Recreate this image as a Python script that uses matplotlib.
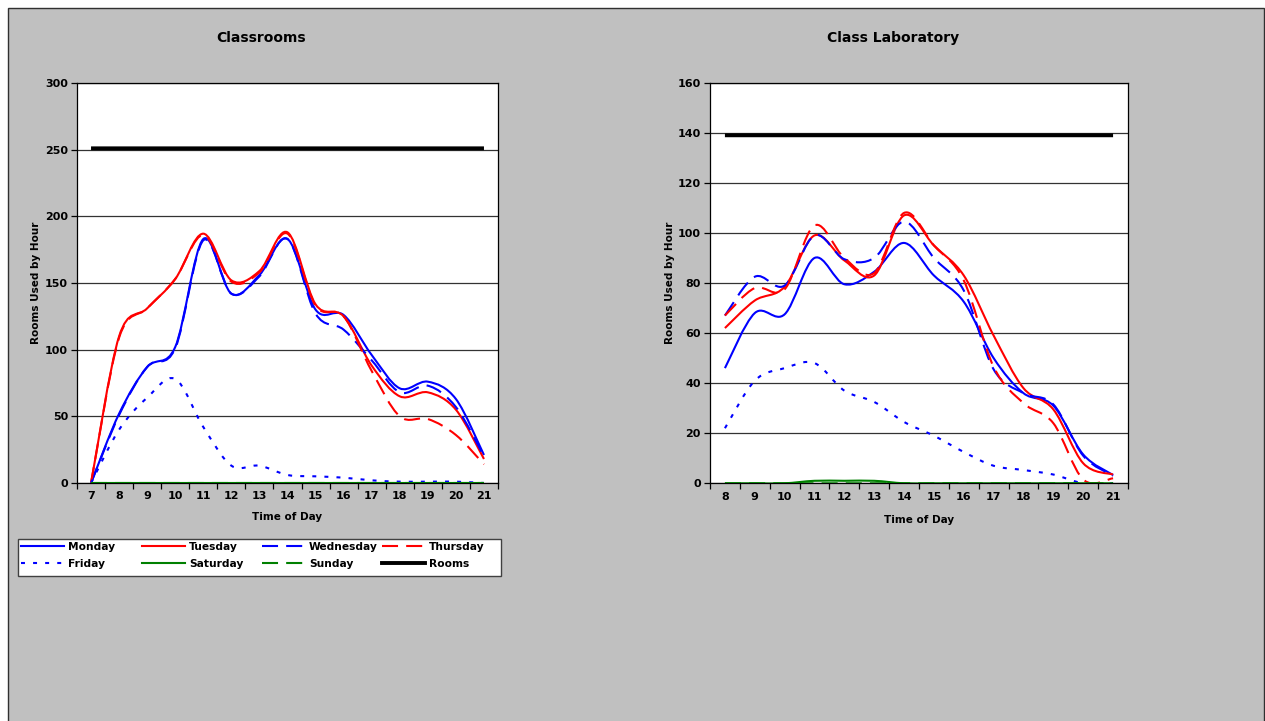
import numpy as np
import matplotlib
matplotlib.use("Agg")
import matplotlib.pyplot as plt
from matplotlib.path import Path
from matplotlib.patches import PathPatch, Rectangle
from matplotlib.lines import Line2D

plt.rcParams['font.family'] = ['DejaVu Sans']

# ---------------- data ----------------
hours_class = [7, 8, 9, 10, 11, 12, 13, 14, 15, 16, 17, 18, 19, 20, 21]
class_monday = [0, 52, 87, 102, 183, 142, 156, 183, 130, 126, 96, 71, 76, 63, 21]
class_tuesday = [0, 110, 131, 153, 187, 152, 159, 188, 134, 125, 88, 65, 68, 55, 18]
class_wednesday = [0, 51, 87, 101, 182, 142, 155, 183, 127, 115, 92, 68, 73, 57, 20]
class_thursday = [0, 109, 131, 153, 186, 151, 158, 187, 133, 125, 84, 50, 48, 36, 14]
class_friday = [0, 40, 64, 78, 42, 13, 13, 6, 5, 4, 2, 1, 1, 1, 0]
class_saturday = [0, 0, 0, 0, 0, 0, 0, 0, 0, 0, 0, 0, 0, 0, 0]
class_sunday = [0, 0, 0, 0, 0, 0, 0, 0, 0, 0, 0, 0, 0, 0, 0]
class_rooms = [251] * 15

hours_lab = [8, 9, 10, 11, 12, 13, 14, 15, 16, 17, 18, 19, 20, 21]
lab_monday = [46, 68, 67.5, 90, 79.5, 84.5, 96, 83, 72.5, 50, 36, 31, 11.5, 3.3]
lab_tuesday = [62, 73, 78.5, 99, 89, 83, 107, 95, 83, 59, 38, 29.5, 8, 3.5]
lab_wednesday = [67, 82.5, 79, 99, 89.5, 90, 104.5, 90, 77, 45.5, 36, 31.5, 11, 3]
lab_thursday = [67, 78, 77.5, 103, 90, 84, 108, 95, 81, 46.5, 32, 24, 1.5, 2]
lab_friday = [22, 41, 46, 48, 37, 32.5, 24.5, 19, 12.5, 7, 5.3, 3.5, 0, 0]
lab_saturday = [0, 0, 0, 1, 1, 1, 0, 0, 0, 0, 0, 0, 0, 0]
lab_sunday = [0, 0, 0, 0, 0, 0, 0, 0, 0, 0, 0, 0, 0, 0]
lab_rooms = [139] * 14

series_names = ["Monday", "Tuesday", "Wednesday", "Thursday",
                "Friday", "Saturday", "Sunday", "Rooms"]

# ---------------- styles ----------------
LW = 1.5
DASH = (0, (7.7, 3.9))
DOT = (0, (1.9, 3.9))
styles = {
    "Monday": dict(color="#0000FF", lw=LW, ls="-"),
    "Tuesday": dict(color="#FF0000", lw=LW, ls="-"),
    "Wednesday": dict(color="#0000FF", lw=LW, ls=DASH),
    "Thursday": dict(color="#FF0000", lw=LW, ls=DASH),
    "Friday": dict(color="#0000FF", lw=LW, ls=DOT),
    "Saturday": dict(color="#008000", lw=LW, ls="-"),
    "Sunday": dict(color="#008000", lw=LW, ls=DASH),
    "Rooms": dict(color="#000000", lw=2.8, ls="-"),
}

GRAY = "#C0C0C0"
W, H = 1265, 721
fig = plt.figure(figsize=(W / 100, H / 100), dpi=100, facecolor="white")

# outer gray panel with dark border
fig.add_artist(Rectangle((8 / W, -0.02), 1 - 8 / W - 1.5 / W, 1 - 8.5 / H + 0.02,
                         transform=fig.transFigure, facecolor=GRAY,
                         edgecolor="#303030", lw=1.0, zorder=0))


def smooth_path(xs, ys):
    pts = np.column_stack([np.asarray(xs, float), np.asarray(ys, float)])
    n = len(pts)
    verts = [pts[0]]
    codes = [Path.MOVETO]
    for i in range(n - 1):
        p0 = pts[max(i - 1, 0)]
        p1 = pts[i]
        p2 = pts[i + 1]
        p3 = pts[min(i + 2, n - 1)]
        c1 = p1 + (p2 - p0) / 6.0
        c2 = p2 - (p3 - p1) / 6.0
        verts += [c1, c2, p2]
        codes += [Path.CURVE4] * 3
    return Path(verts, codes)


def setup_axes(rect, hours, ymax, ystep, ylabelpad, xlabelpad):
    ax = fig.add_axes(rect)
    ax.set_facecolor("white")
    ax.set_xlim(hours[0] - 0.5, hours[-1] + 0.5)
    ax.set_ylim(0, ymax)
    ax.set_yticks(np.arange(0, ymax + 1, ystep))
    ax.set_xticks(np.arange(hours[0] - 0.5, hours[-1] + 1.0, 1.0))
    ax.set_xticklabels([])
    ax.set_xticks(hours, minor=True)
    ax.set_xticklabels([str(h) for h in hours], minor=True)
    ax.tick_params(axis="x", which="major", direction="out", length=4, width=0.9)
    ax.tick_params(axis="x", which="minor", length=0, pad=6, labelsize=8)
    ax.tick_params(axis="y", direction="out", length=4, width=0.9, pad=2.5, labelsize=8)
    for lab in ax.get_xticklabels(minor=True) + ax.get_yticklabels():
        lab.set_fontweight("bold")
    ax.yaxis.grid(True, color="#333333", lw=0.9)
    ax.set_axisbelow(True)
    for s in ax.spines.values():
        s.set_color("black")
        s.set_linewidth(0.9)
    ax.set_ylabel("Rooms Used by Hour", fontsize=7.5, fontweight="bold", labelpad=ylabelpad)
    ax.set_xlabel("Time of Day", fontsize=7.5, fontweight="bold", labelpad=xlabelpad)
    return ax


def draw_series(ax, hours, data):
    for name, vals in zip(series_names, data):
        st = styles[name]
        patch = PathPatch(smooth_path(hours, vals), fill=False,
                          edgecolor=st["color"], lw=st["lw"], linestyle=st["ls"],
                          capstyle="butt", joinstyle="round", zorder=3,
                          transform=ax.transData)
        ax.add_patch(patch)


ax1 = setup_axes([77 / W, 1 - 483 / H, 421 / W, 400 / H], hours_class, 300, 50, 3.2, 7.5)
draw_series(ax1, hours_class, [class_monday, class_tuesday, class_wednesday,
                               class_thursday, class_friday, class_saturday,
                               class_sunday, class_rooms])

ax2 = setup_axes([710 / W, 1 - 483.3 / H, 418 / W, 400.6 / H], hours_lab, 160, 20, 2.2, 9.5)
draw_series(ax2, hours_lab, [lab_monday, lab_tuesday, lab_wednesday,
                             lab_thursday, lab_friday, lab_saturday,
                             lab_sunday, lab_rooms])

fig.text(261 / W, 1 - 38 / H, "Classrooms", ha="center", va="center",
         fontsize=10, fontweight="bold")
fig.text(893 / W, 1 - 38 / H, "Class Laboratory", ha="center", va="center",
         fontsize=10, fontweight="bold")

# legend frame
fig.add_artist(Rectangle((18 / W, (H - 576) / H), 483 / W, 37 / H,
                         transform=fig.transFigure, facecolor="white",
                         edgecolor="#404040", lw=1.0, zorder=1))


def handle(name):
    st = styles[name]
    return Line2D([], [], color=st["color"], lw=st["lw"], linestyle=st["ls"],
                  dash_capstyle="butt")


columns = [("Monday", "Friday"), ("Tuesday", "Saturday"),
           ("Wednesday", "Sunday"), ("Thursday", "Rooms")]
col_x = [21, 142, 262, 382]
for (a, b), cx in zip(columns, col_x):
    leg = fig.legend([handle(a), handle(b)], [a, b], loc="upper left",
                     bbox_to_anchor=(cx / W, 1 - 542 / H),
                     bbox_transform=fig.transFigure, frameon=False,
                     borderpad=0, borderaxespad=0, handlelength=4.0,
                     handletextpad=0.38, labelspacing=0.62,
                     prop=dict(weight="bold", size=7.7))
    leg.set_zorder(2)

fig.savefig("out.png", dpi=100, facecolor=fig.get_facecolor())
